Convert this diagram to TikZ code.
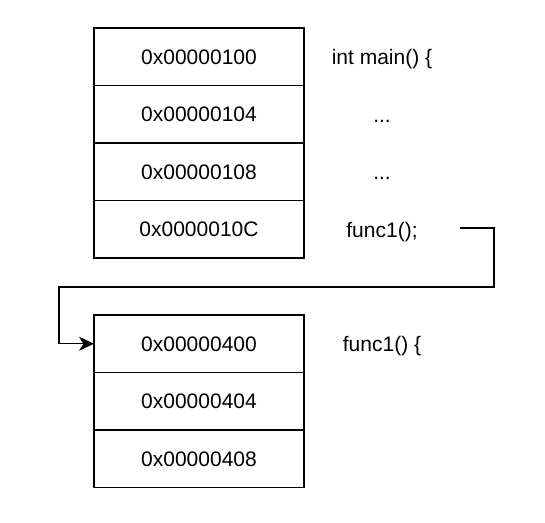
\documentclass[tikz,border=0pt]{standalone}
\usepackage{fontspec}
\setmainfont{Liberation Sans}
\usepackage{tikz}
\usetikzlibrary{arrows.meta,positioning}

\begin{document}
\begin{tikzpicture}[
  x=1pt,y=-1pt,
  node distance=0pt,
  every node/.style={font=\fontsize{21}{25}\selectfont,align=center},
  cell/.style={draw,line width=1.4pt,minimum width=210pt,minimum height=57.5pt,
    inner sep=0pt,outer sep=0pt,text height=15pt,text depth=0pt},
  code/.style={inner sep=0pt,text height=16pt,text depth=0pt},
  arrow/.style={-{Stealth[length=15pt,width=14pt,inset=4.5pt]},line width=1.4pt}
]
\useasboundingbox (0,0) rectangle (545,522);
% main() in memory
\node[cell] (a1) at (199,56.75) {0x00000100};
\node[cell,below=of a1] (a2) {0x00000104};
\node[cell,below=of a2] (a3) {0x00000108};
\node[cell,below=of a3] (a4) {0x0000010C};
% func1() in memory
\node[cell] (b1) at (199,343.75) {0x00000400};
\node[cell,below=of b1] (b2) {0x00000404};
\node[cell,below=of b2] (b3) {0x00000408};
% source lines
\coordinate (col) at (382,0);
\node[code] (m1) at (a1 -| col) {int main() \{};
\node[code] (m2) at (a2 -| col) {...};
\node[code] (m3) at (a3 -| col) {...};
\node[code] (m4) at (a4 -| col) {func1();};
\node[code] (f1) at (b1 -| col) {func1() \{};
\coordinate (call) at (460,228);
\draw[arrow] (call) -| (494,287) -| (59,343.75) -- (b1.west);
\end{tikzpicture}
\end{document}
